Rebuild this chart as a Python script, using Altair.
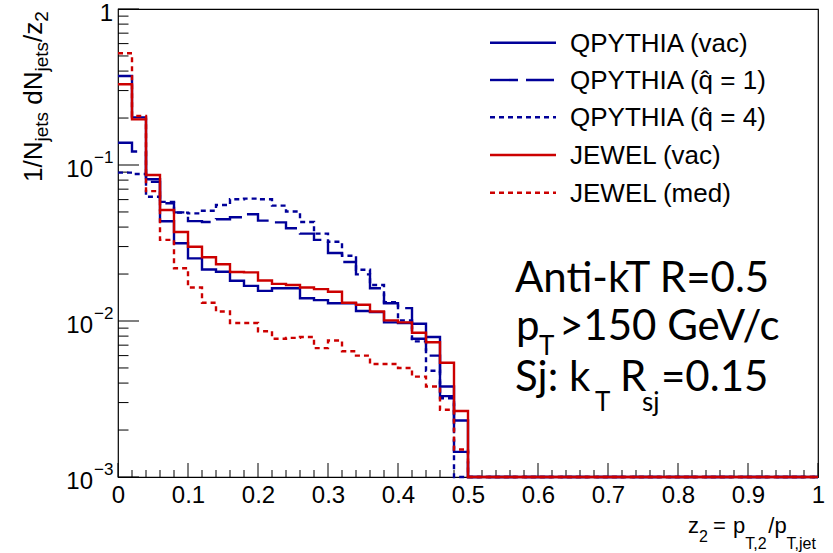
import altair as alt
import pandas as pd

FONT = "Liberation Sans"
BOX_FONT = "Lato"

# ---------------- data: 50 bins of width 0.02 on [0, 1]; bins above the listed ones are empty
BIN_WIDTH = 0.02
N_BINS = 50

qpythia_vac = [0.372, 0.202, 0.081, 0.0436, 0.0315, 0.0252, 0.0214, 0.0207, 0.0181, 0.0168,
               0.0156, 0.0162, 0.0162, 0.0140, 0.0136, 0.0130, 0.0130, 0.0116, 0.0114, 0.0098,
               0.0097, 0.0096, 0.0079, 0.0038, 0.0023]
qpythia_q1 = [0.139, 0.122, 0.078, 0.0568, 0.0497, 0.0437, 0.0431, 0.0449, 0.0462, 0.0483,
              0.0440, 0.0429, 0.0393, 0.0363, 0.0331, 0.0273, 0.0239, 0.0199, 0.0162, 0.0130,
              0.0121, 0.0077, 0.0060, 0.0033, 0.00145]
qpythia_q4 = [0.0893, 0.0876, 0.0626, 0.058, 0.0495, 0.0490, 0.0509, 0.0554, 0.0603, 0.0609,
              0.0603, 0.0549, 0.0503, 0.0431, 0.0363, 0.0322, 0.0262, 0.0213, 0.0170, 0.0132,
              0.0101, 0.0074, 0.0048, 0.0032, 0.0]
jewel_vac = [0.329, 0.196, 0.0863, 0.0515, 0.0372, 0.0299, 0.0256, 0.0231, 0.0206, 0.0205,
             0.0182, 0.0173, 0.0170, 0.0164, 0.0160, 0.0154, 0.0131, 0.0127, 0.0115, 0.0101,
             0.0098, 0.0084, 0.0073, 0.0054, 0.00265]
jewel_med = [0.52, 0.206, 0.068, 0.0331, 0.0218, 0.0164, 0.0131, 0.0115, 0.0097, 0.0097,
             0.0086, 0.0077, 0.0078, 0.0079, 0.0067, 0.0075, 0.0064, 0.0060, 0.0053, 0.0053,
             0.0050, 0.0044, 0.0038, 0.0027, 0.0015]

series_names = ["QPYTHIA (vac)", "QPYTHIA (q\u0302 = 1)", "QPYTHIA (q\u0302 = 4)",
                "JEWEL (vac)", "JEWEL (med)"]
series_values = [qpythia_vac, qpythia_q1, qpythia_q4, jewel_vac, jewel_med]

BLUE = "#000099"
RED = "#cc0000"
series_colors = [BLUE, BLUE, BLUE, RED, RED]
series_dashes = [None, [28, 8], [5, 4], None, [5, 4]]

x_major = [0.0, 0.1, 0.2, 0.3, 0.4, 0.5, 0.6, 0.7, 0.8, 0.9, 1.0]
x_minor = [round(i * BIN_WIDTH, 2) for i in range(51) if i % 5 != 0]
y_major = [0.001, 0.01, 0.1, 1.0]
y_minor = [k * d for d in (0.001, 0.01, 0.1) for k in range(2, 10)]

# ---------------- table
rows = []
for name, vals in zip(series_names, series_values):
    full = list(vals) + [0.0] * (N_BINS - len(vals))
    for i, v in enumerate(full):
        rows.append({"series": name, "x": round(i * BIN_WIDTH, 4), "v": v})
    rows.append({"series": name, "x": 1.0, "v": full[-1]})
hist_df = pd.DataFrame(rows)

W, H = 700, 468
xscale = alt.Scale(domain=[0, 1], nice=False, zero=False)
yscale = alt.Scale(type="log", domain=[0.001, 1], nice=False)
x_enc = alt.X("x:Q", scale=xscale,
              axis=alt.Axis(values=x_major, format=".1~f", labelFont=FONT, labelFontSize=24,
                            labelColor="black", labelPadding=6, ticks=False, domain=False,
                            grid=False, title=None, labelFlush=False, labelOverlap=False))
y_enc = alt.Y("y:Q", scale=yscale, axis=None)

layers = []

# inward ticks
layers.append(alt.Chart(pd.DataFrame({"x": x_major})).mark_rule(color="black", strokeWidth=1)
              .encode(x=x_enc, y=alt.value(H), y2=alt.value(H - 14)))
layers.append(alt.Chart(pd.DataFrame({"x": x_minor})).mark_rule(color="black", strokeWidth=1)
              .encode(x=x_enc, y=alt.value(H), y2=alt.value(H - 7)))
layers.append(alt.Chart(pd.DataFrame({"y": y_major})).mark_rule(color="black", strokeWidth=1)
              .encode(y=y_enc, x=alt.value(0), x2=alt.value(21)))
layers.append(alt.Chart(pd.DataFrame({"y": y_minor})).mark_rule(color="black", strokeWidth=1)
              .encode(y=y_enc, x=alt.value(0), x2=alt.value(10.5)))

# histograms
for name, color, dash in zip(series_names, series_colors, series_dashes):
    kw = dict(interpolate="step-after", color=color, strokeWidth=2.4, clip=False)
    if dash:
        kw["strokeDash"] = dash
    layers.append(
        alt.Chart(hist_df)
        .transform_filter(alt.datum.series == name)
        .transform_calculate(y="max(datum.v, 0.001)")
        .mark_line(**kw)
        .encode(x=x_enc, y=y_enc, order="x:Q")
    )

# y-axis labels
layers.append(alt.Chart(pd.DataFrame({"y": [1.0], "t": ["1"]}))
              .mark_text(align="right", baseline="alphabetic", dy=12, fontSize=24, font=FONT, color="black")
              .encode(y=y_enc, x=alt.value(-5), text="t:N"))
layers.append(alt.Chart(pd.DataFrame({"y": [0.1, 0.01, 0.001], "t": ["10", "10", "10"]}))
              .mark_text(align="right", baseline="alphabetic", dy=12, fontSize=24, font=FONT, color="black")
              .encode(y=y_enc, x=alt.value(-25), text="t:N"))
layers.append(alt.Chart(pd.DataFrame({"y": [0.1, 0.01, 0.001], "t": ["\u22121", "\u22122", "\u22123"]}))
              .mark_text(align="left", baseline="alphabetic", dy=-2, fontSize=17, font=FONT, color="black")
              .encode(y=y_enc, x=alt.value(-24), text="t:N"))


def label(txt, x, y, size, font=FONT, angle=0, align="left"):
    return (alt.Chart(pd.DataFrame({"t": [txt]}))
            .mark_text(align=align, baseline="alphabetic", fontSize=size, font=font,
                       angle=angle, color="black")
            .encode(x=alt.value(x), y=alt.value(y), text="t:N"))


# x title: z_2 = p_T,2/p_T,jet
for txt, x, y, s in [("z", 570, 524, 22), ("2", 581, 532.5, 16), ("=", 595, 524, 22),
                     ("p", 615, 524, 22), ("T,2", 627.2, 540, 16), ("/", 650.3, 524, 22),
                     ("p", 656.4, 524, 22), ("T,jet", 668.6, 540, 16)]:
    layers.append(label(txt, x, y, s))

# y title: 1/N_jets dN_jets/z_2 (rotated)
for txt, x, y, s in [("1/N", -76, 173, 26), ("jets", -70, 132.5, 19), ("dN", -76, 95.7, 26),
                     ("jets", -70, 62.5, 19), ("/z", -76, 32.9, 26), ("2", -70, 12.7, 19)]:
    layers.append(label(txt, x, y, s, angle=270))

# legend
legend_y = [33.7, 71, 108.3, 146, 183.7]
for name, color, dash, yy in zip(series_names, series_colors, series_dashes, legend_y):
    kw = dict(color=color, strokeWidth=2.4)
    if dash:
        kw["strokeDash"] = dash
    layers.append(alt.Chart(pd.DataFrame({"a": [0]})).mark_rule(**kw)
                  .encode(x=alt.value(372), x2=alt.value(438), y=alt.value(yy)))
    layers.append(label(name, 452, yy + 9, 26))

# text box
for txt, x, y, s in [("Anti-kT R=0.5", 397, 282.7, 42),
                     ("p", 398, 331, 42), ("T", 421, 346, 26), (">150 GeV/c", 441, 331, 42),
                     ("Sj: k", 397, 382, 42), ("T", 477, 402, 26), ("R", 502, 382, 42),
                     ("sj", 524, 402, 26), ("=0.15", 543, 382, 42)]:
    layers.append(label(txt, x, y, s, font=BOX_FONT))

chart = (
    alt.layer(*layers)
    .properties(width=W, height=H,
                padding={"left": 118, "top": 9, "right": 15, "bottom": 76},
                autosize=alt.AutoSizeParams(type="none"))
    .configure(background="white")
    .configure_view(stroke="black", strokeWidth=1.2)
)

chart.save("out.html", embed_options={"renderer": "svg", "actions": False})
